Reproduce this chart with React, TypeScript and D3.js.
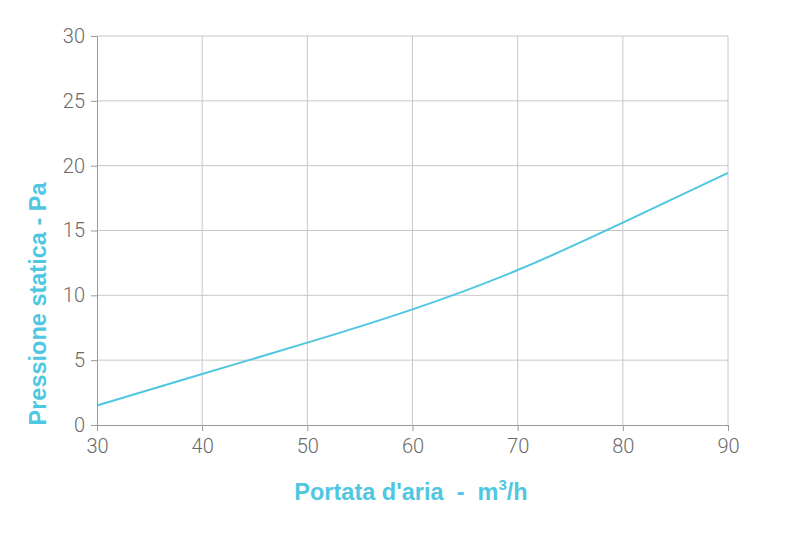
import React, { useEffect, useRef } from 'react';
import * as d3 from 'd3';

// airflow (m3/h) vs static pressure (Pa)
const flow = [30, 40, 50, 60, 70, 80, 90];
const pressure = [1.5, 3.93, 6.35, 8.92, 11.95, 15.6, 19.45];
const xTicks = [30, 40, 50, 60, 70, 80, 90];
const yTicks = [0, 5, 10, 15, 20, 25, 30];

const W = 805;
const H = 555;
const M = { left: 97, right: 77, top: 36, bottom: 130 };
const CYAN = '#4fc7e1';

const App: React.FC = () => {
  const svgRef = useRef<SVGSVGElement>(null);

  useEffect(() => {
    if (!svgRef.current) return;
    const svg = d3.select(svgRef.current);
    svg.selectAll('*').remove();

    const x = d3.scaleLinear().domain([30, 90]).range([M.left, W - M.right]);
    const y = d3.scaleLinear().domain([0, 30]).range([H - M.bottom, M.top]);

    // grid
    svg.append('g')
      .selectAll('line')
      .data(xTicks.slice(1))
      .enter()
      .append('line')
      .attr('x1', d => x(d)).attr('x2', d => x(d))
      .attr('y1', y(0)).attr('y2', y(30))
      .attr('stroke', '#c8c8c8').attr('stroke-width', 1);
    svg.append('g')
      .selectAll('line')
      .data(yTicks.slice(1))
      .enter()
      .append('line')
      .attr('x1', x(30)).attr('x2', x(90))
      .attr('y1', d => y(d)).attr('y2', d => y(d))
      .attr('stroke', '#c8c8c8').attr('stroke-width', 1);

    const fontFamily = 'Roboto, "DejaVu Sans", sans-serif';

    const xAxis = svg.append('g')
      .attr('transform', `translate(0, ${y(0)})`)
      .call(d3.axisBottom(x).tickValues(xTicks).tickSize(6).tickSizeOuter(0).tickPadding(8));
    const yAxis = svg.append('g')
      .attr('transform', `translate(${x(30)}, 0)`)
      .call(d3.axisLeft(y).tickValues(yTicks).tickSize(6).tickSizeOuter(0).tickPadding(6));

    [xAxis, yAxis].forEach(g => {
      g.select('.domain').attr('stroke', '#9a9a9a');
      g.selectAll('.tick line').attr('stroke', '#9a9a9a');
      g.selectAll('.tick text')
        .attr('fill', '#6a6a6a')
        .attr('font-family', fontFamily)
        .attr('font-weight', 300)
        .attr('font-size', 20);
    });

    const line = d3.line<number>()
      .x((_, i) => x(flow[i]))
      .y(d => y(d))
      .curve(d3.curveNatural);

    svg.append('path')
      .datum(pressure)
      .attr('d', line)
      .attr('fill', 'none')
      .attr('stroke', CYAN)
      .attr('stroke-width', 2);

    // axis titles
    const xt = svg.append('text')
      .attr('x', 411)
      .attr('y', 500)
      .attr('text-anchor', 'middle')
      .attr('fill', CYAN)
      .attr('font-family', '"Liberation Sans", Arial, sans-serif')
      .attr('font-weight', 'bold')
      .attr('font-size', 23.5)
      .attr('xml:space', 'preserve');
    xt.append('tspan').text("Portata d'aria  -  m");
    xt.append('tspan').attr('dy', -10).attr('font-size', 15).text('3');
    xt.append('tspan').attr('dy', 10).text('/h');

    svg.append('text')
      .attr('transform', `translate(46, 304) rotate(-90)`)
      .attr('text-anchor', 'middle')
      .attr('fill', CYAN)
      .attr('font-family', '"Liberation Sans", Arial, sans-serif')
      .attr('font-weight', 'bold')
      .attr('font-size', 23.5)
      .text('Pressione statica - Pa');
  }, []);

  return <svg ref={svgRef} width={W} height={H} style={{ display: 'block', margin: -8 }} />;
};

export default App;
